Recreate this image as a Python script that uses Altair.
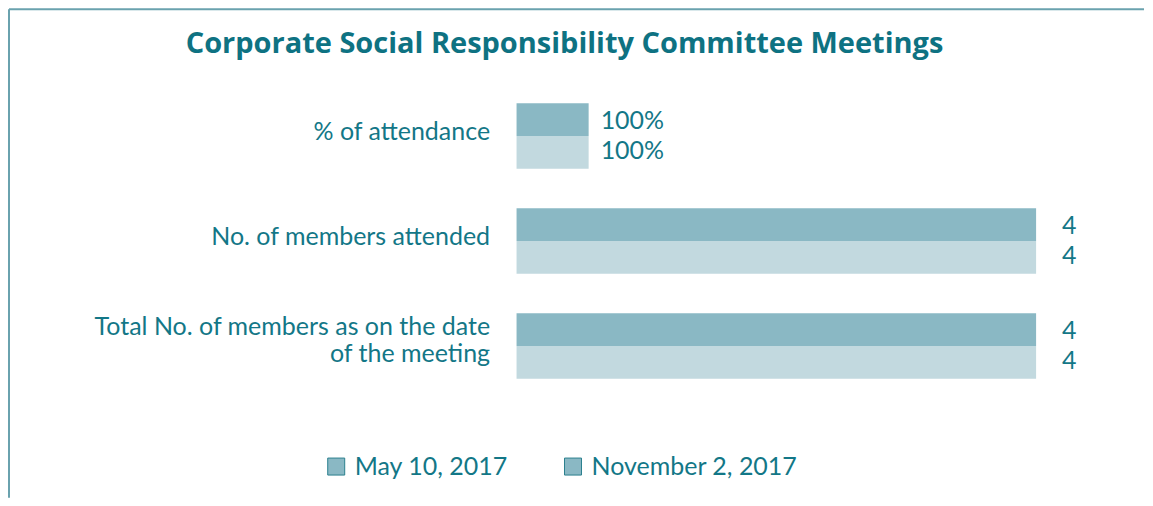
import altair as alt
import pandas as pd

categories = [
    "% of attendance",
    "No. of members attended",
    "Total No. of members as on the date of the meeting",
]
series_names = ["May 10, 2017", "November 2, 2017"]
# bar lengths as drawn in the picture (count rows reach 4; the % row is drawn short)
may_lengths = [0.555, 4, 4]
nov_lengths = [0.555, 4, 4]
may_labels = ["100%", "4", "4"]
nov_labels = ["100%", "4", "4"]

rows = []
for s, lengths, labels in [
    (series_names[0], may_lengths, may_labels),
    (series_names[1], nov_lengths, nov_labels),
]:
    for c, v, l in zip(categories, lengths, labels):
        rows.append({"category": c, "series": s, "value": v, "label": l})
df = pd.DataFrame(rows)

TEAL = "#137787"
TITLE = "#0e7282"
DARK = "#8ab8c4"
LIGHT = "#c2d9df"
FONT = "Lato"
FS = 25

label_expr = (
    "datum.label == '" + categories[2] + "' ? "
    "['Total No. of members as on the date', 'of the meeting'] : datum.label"
)

y_enc = alt.Y(
    "category:N",
    sort=categories,
    title=None,
    scale=alt.Scale(paddingInner=0.376, paddingOuter=0.2),
    axis=alt.Axis(
        labelExpr=label_expr,
        labelOffset={
            "condition": {"test": "datum.value == '" + categories[2] + "'", "value": -19},
            "value": -4,
        },
        labelLineHeight=27,
        domain=False,
        ticks=False,
        labelPadding=27,
        labelLimit=600,
        labelFont=FONT,
        labelFontSize=FS,
        labelColor=TEAL,
    ),
)
yoff = alt.YOffset(
    "series:N", sort=series_names, scale=alt.Scale(paddingInner=0, paddingOuter=0)
)
x_enc = alt.X("value:Q", scale=alt.Scale(domain=[0, 4], nice=False), axis=None)

bars = alt.Chart(df).mark_bar().encode(
    y=y_enc,
    yOffset=yoff,
    x=x_enc,
    color=alt.Color(
        "series:N",
        sort=series_names,
        scale=alt.Scale(domain=series_names, range=[DARK, LIGHT]),
        legend=None,
    ),
)

# legend carrier: invisible squares whose fill legend shows both swatches alike
legend_layer = alt.Chart(df).mark_square(opacity=0, filled=True).encode(
    y=y_enc,
    x=x_enc,
    fill=alt.Fill(
        "series:N",
        sort=series_names,
        scale=alt.Scale(domain=series_names, range=[DARK, DARK]),
        legend=alt.Legend(
            title=None,
            orient="none",
            legendX=-193,
            legendY=372,
            direction="horizontal",
            symbolType="square",
            symbolSize=289,
            symbolStrokeColor="#2a7f8e",
            symbolStrokeWidth=1,
            symbolOpacity=1,
            labelFont=FONT,
            labelFontSize=FS,
            labelColor=TEAL,
            labelOffset=6,
            labelLimit=400,
            columnPadding=52,
        ),
    ),
)

text_style = dict(align="left", baseline="middle", font=FONT, fontSize=FS, color=TEAL)

text_layers = []
for is_pct, dx in [(True, 12), (False, 26)]:
    for s, dy in zip(series_names, [1, -1]):
        if is_pct:
            cond = (alt.datum.category == categories[0]) & (alt.datum.series == s)
        else:
            cond = (alt.datum.category != categories[0]) & (alt.datum.series == s)
        text_layers.append(
            alt.Chart(df)
            .transform_filter(cond)
            .mark_text(dx=dx, dy=dy, **text_style)
            .encode(y=y_enc, yOffset=yoff, x=x_enc, text="label:N")
        )

border_df = pd.DataFrame({"k": [0]})
top_line = alt.Chart(border_df).mark_rule(color="#6aa2ae", strokeWidth=2).encode(
    x=alt.value(-508), x2=alt.value(628), y=alt.value(-73)
)
left_line = alt.Chart(border_df).mark_rule(color="#6aa2ae", strokeWidth=2).encode(
    x=alt.value(-508), y=alt.value(-73), y2=alt.value(416)
)

chart = (
    alt.layer(top_line, left_line, bars, legend_layer, *text_layers)
    .resolve_scale(fill="independent", color="independent")
    .properties(
        width=520,
        height=318,
        padding=0,
        title=alt.TitleParams(
            "Corporate Social Responsibility Committee Meetings",
            font="Open Sans",
            fontSize=29,
            fontWeight="bold",
            color=TITLE,
            anchor="middle",
            frame="group",
            dx=-212,
            offset=-51,
        ),
    )
    .configure_view(stroke=None)
)

chart.save("out.html", embed_options={"renderer": "svg", "actions": False})
